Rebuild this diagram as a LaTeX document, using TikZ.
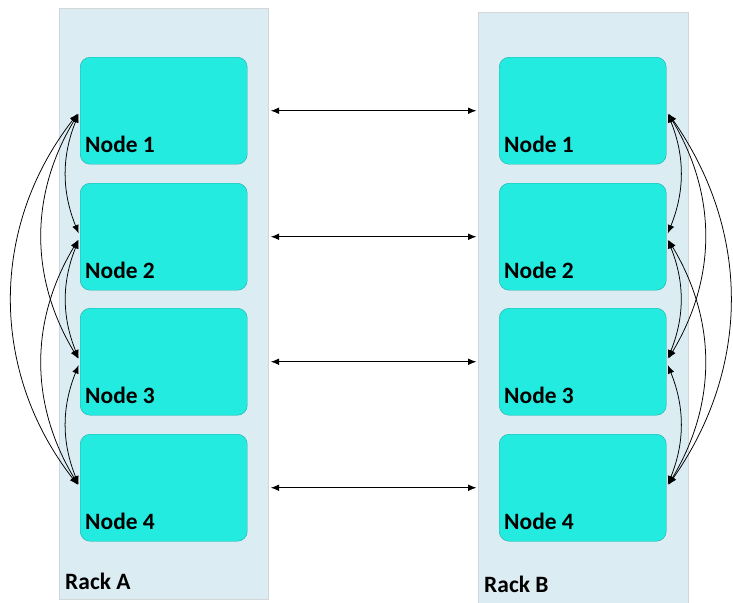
\documentclass[tikz,border=0pt]{standalone}
\usepackage{fontspec}
\setmainfont{Carlito}
\usepackage{xcolor}
\usepackage{tikz}
\usetikzlibrary{arrows.meta}
\definecolor{rackfill}{HTML}{DBECF2}
\definecolor{rackline}{HTML}{D2D6D8}
\definecolor{nodefill}{HTML}{24EBE0}
\definecolor{nodeline}{HTML}{1DB0AA}

\begin{document}
\begin{tikzpicture}[
    x=0.03cm, y=-0.03cm,
    rack/.style={rectangle, draw=rackline, line width=1pt, fill=rackfill, anchor=north west, inner sep=0pt},
    server/.style={rectangle, draw=nodeline, fill=nodefill, rounded corners=3mm, minimum width=5.01cm, minimum height=3.21cm, anchor=north west, inner sep=0pt},
    tag/.style={anchor=base west, inner sep=0pt, font=\fontsize{20}{22}\selectfont\bfseries},
    link/.style={{Latex[length=2.5mm,width=2mm]}-{Latex[length=2.5mm,width=2mm]}, line width=0.65pt, shorten <=1.1mm, shorten >=1.1mm}
]
    \useasboundingbox (0,0) rectangle (733,602);

    % Racks
    \node[rack, minimum width=6.27cm, minimum height=17.73cm] (rackA) at (59,8) {};
    \node[rack, minimum width=6.3cm, minimum height=17.8cm] (rackB) at (478,12) {};
    \node[tag] (rackAt) at (65,589) {Rack A};
    \node[tag] (rackBt) at (484,592) {Rack B};

    % Rack A
    \node[server] (a1) at (80,57) {};
    \node[server] (a2) at (80,183) {};
    \node[server] (a3) at (80,308) {};
    \node[server] (a4) at (80,434) {};
    \node[tag] (a1t) at (85,152) {Node 1};
    \node[tag] (a2t) at (85,278) {Node 2};
    \node[tag] (a3t) at (85,403) {Node 3};
    \node[tag] (a4t) at (85,529) {Node 4};

    % Rack B
    \node[server] (b1) at (499,57) {};
    \node[server] (b2) at (499,183) {};
    \node[server] (b3) at (499,308) {};
    \node[server] (b4) at (499,434) {};
    \node[tag] (b1t) at (504,152) {Node 1};
    \node[tag] (b2t) at (504,278) {Node 2};
    \node[tag] (b3t) at (504,403) {Node 3};
    \node[tag] (b4t) at (504,529) {Node 4};

    % Between racks
    \draw[link, shorten <=0.5mm, shorten >=0.5mm] (rackA.east |- a1.west) -- (rackB.west |- b1.east);
    \draw[link, shorten <=0.5mm, shorten >=0.5mm] (rackA.east |- a2.west) -- (rackB.west |- b2.east);
    \draw[link, shorten <=0.5mm, shorten >=0.5mm] (rackA.east |- a3.west) -- (rackB.west |- b3.east);
    \draw[link, shorten <=0.5mm, shorten >=0.5mm] (rackA.east |- a4.west) -- (rackB.west |- b4.east);

    % Inside rack A
    \draw[link] (a1.west) to[bend right=22] (a2.west);
    \draw[link] (a2.west) to[bend right=22] (a3.west);
    \draw[link] (a3.west) to[bend right=22] (a4.west);
    \draw[link] (a1.west) to[bend right=31] (a3.west);
    \draw[link] (a2.west) to[bend right=31] (a4.west);
    \draw[link] (a1.west) to[bend right=38] (a4.west);

    % Inside rack B
    \draw[link] (b1.east) to[bend left=22] (b2.east);
    \draw[link] (b2.east) to[bend left=22] (b3.east);
    \draw[link] (b3.east) to[bend left=22] (b4.east);
    \draw[link] (b1.east) to[bend left=31] (b3.east);
    \draw[link] (b2.east) to[bend left=31] (b4.east);
    \draw[link] (b1.east) to[bend left=35] (b4.east);
\end{tikzpicture}
\end{document}
